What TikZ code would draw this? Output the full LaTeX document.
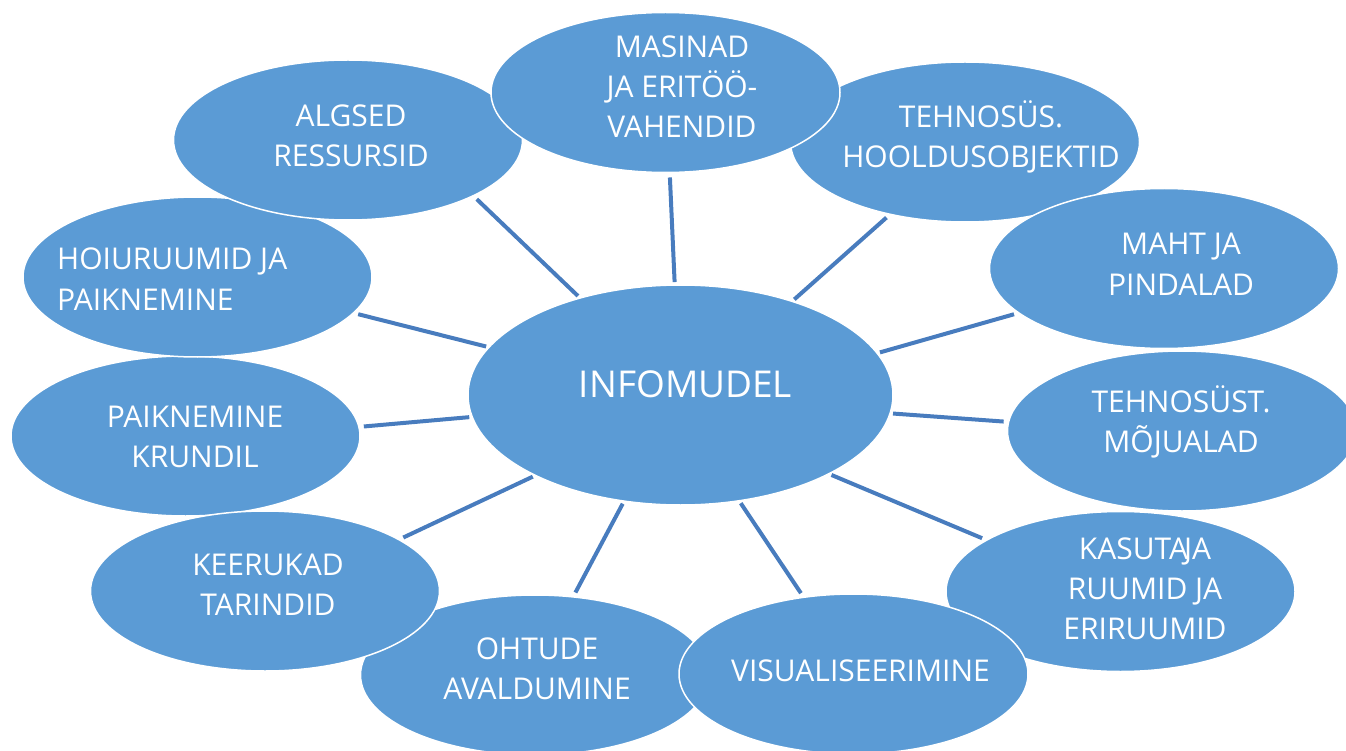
\documentclass[tikz,border=0pt]{standalone}
\usepackage{fontspec}
\setmainfont{Open Sans}
\usetikzlibrary{shapes.geometric}
\definecolor{bubblefill}{RGB}{91,155,213}
\definecolor{spokeline}{RGB}{72,124,190}
\begin{document}
\begin{tikzpicture}[x=1pt,y=-1pt,
  bubble/.style={ellipse, fill=bubblefill, draw=white, line width=1.5pt,
    minimum width=349pt, minimum height=160pt, inner sep=0pt, outer sep=0pt},
  lbl/.style={text=white, font=\fontsize{30}{40}\selectfont, align=center,
    anchor=base, inner sep=0pt},
  spoke/.style={draw=spokeline, line width=4pt, shorten <=3pt, shorten >=5pt}]
\useasboundingbox (0,0) rectangle (1346,751);
\clip (0,0) rectangle (1346,751);

% outer ring of topics, back to front
\node[bubble] (mojualad)   at (1182,431)   {};
\node[bubble] (kasutaja)   at (1120.5,591.5) {};
\node[bubble] (ohtude)     at (535,675)    {};
\node[bubble] (visual)     at (853.5,674)  {};
\node[bubble] (paiknemine) at (185.5,436)  {};
\node[bubble] (keerukad)   at (265,591)    {};
\node[bubble] (hoiuruumid) at (197.5,277)  {};
\node[bubble] (algsed)     at (348,140)    {};
\node[bubble] (hooldus)    at (965,142)    {};
\node[bubble] (maht)       at (1164,268.5) {};
\node[bubble] (masinad)    at (665.5,92.5) {};

% central model
\node[bubble, minimum width=425pt, minimum height=220pt] (info) at (680.5,395) {};

% labels, placed by the baseline of their last line
\node[lbl] (t-masinad)  at (682,138)  {MASINAD\\JA ERITÖÖ-\\VAHENDID};
\node[lbl] (t-algsed)   at (351,167)  {ALGSED\\RESSURSID};
\node[lbl] (t-hooldus)  at (981,168)  {TEHNOSÜS.\\HOOLDUSOBJEKTID};
\node[lbl] (t-maht)     at (1181,295) {MAHT JA\\PINDALAD};
\node[lbl] (t-mojualad) at (1181,452) {TEHNOSÜST.\\MÕJUALAD};
\node[lbl] (t-kasutaja) at (1145,639) {KASUTA\kern-4pt JA\\RUUMID JA\\ERIRUUMID};
\node[lbl] (t-visual)   at (860.5,681) {VISUALISEERIMINE};
\node[lbl] (t-ohtude)   at (537,699)  {OHTUDE\\AVALDUMINE};
\node[lbl] (t-keerukad) at (268,615)  {KEERUKAD\\TARINDID};
\node[lbl] (t-paik)     at (195,467)  {PAIKNEMINE\\KRUNDIL};
\node[lbl, align=left, anchor=base west] (t-hoiu) at (57,310) {HOIURUUMID JA\\PAIKNEMINE};
\node[lbl, font=\fontsize{37}{44}\selectfont] (t-info) at (685.5,397) {INFOMUDEL};

% spokes from the model to each topic
\draw[spoke] (info.136.5) -- (algsed.-24.9);
\draw[spoke] (info.93.8)  -- (masinad.-87);
\draw[spoke] (info.40.6)  -- (hooldus.-136.8);
\draw[spoke] (info.12.6)  -- (maht.-163);
\draw[spoke] (info.-5.8)  -- (mojualad.177.7);
\draw[spoke] (info.-28.2) -- (kasutaja.159.3);
\draw[spoke] (info.-61.4) -- (visual.123.4);
\draw[spoke] (info.-118.2) -- (ohtude.64.3);
\draw[spoke] (info.-151.9) -- (keerukad.21.6);
\draw[spoke] (info.186.4) -- (paiknemine.3.8);
\draw[spoke] (info.166.6) -- (hoiuruumid.-13.9);
\end{tikzpicture}
\end{document}
